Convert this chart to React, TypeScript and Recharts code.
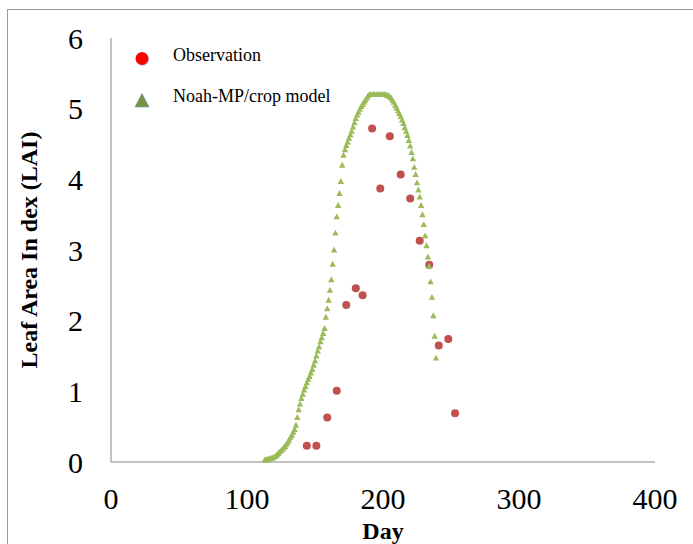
import React from "react";
import { ScatterChart, Scatter, XAxis, YAxis, Label } from "recharts";

const xTicks = [0, 100, 200, 300, 400];
const yTicks = [0, 1, 2, 3, 4, 5, 6];

const obsDays = [144, 151, 159, 166, 173, 180, 185, 192, 198, 205, 213, 220, 227, 234, 241, 248, 253];
const obsLai = [0.23, 0.23, 0.63, 1.01, 2.22, 2.46, 2.36, 4.72, 3.87, 4.61, 4.07, 3.73, 3.13, 2.79, 1.65, 1.74, 0.69];

const modelDays = [
    113, 114, 115, 116, 117, 118, 119, 120, 121, 122, 123, 124, 125, 126, 127, 128, 129, 130,
    131, 132, 133, 134, 135, 136, 137, 138, 139, 140, 141, 142, 143, 144, 145, 146, 147, 148,
    149, 150, 151, 152, 153, 154, 155, 156, 157, 158, 159, 160, 161, 162, 163, 164, 165, 166,
    167, 168, 169, 170, 171, 172, 173, 174, 175, 176, 177, 178, 179, 180, 181, 182, 183, 184,
    185, 186, 187, 188, 189, 190, 191, 192, 193, 194, 195, 196, 197, 198, 199, 200, 201, 202,
    203, 204, 205, 206, 207, 208, 209, 210, 211, 212, 213, 214, 215, 216, 217, 218, 219, 220,
    221, 222, 223, 224, 225, 226, 227, 228, 229, 230, 231, 232, 233, 234, 235, 236, 237, 238,
    239,
];
const modelLai = [
    0.03, 0.03, 0.04, 0.04, 0.05, 0.05, 0.06, 0.07, 0.08, 0.1, 0.12, 0.14, 0.16, 0.18, 0.2, 0.22, 0.25, 0.28,
    0.31, 0.35, 0.38, 0.42, 0.46, 0.52, 0.63, 0.74, 0.82, 0.9, 0.96, 1.02, 1.07, 1.12, 1.17, 1.21, 1.26, 1.31,
    1.37, 1.43, 1.5, 1.57, 1.63, 1.7, 1.76, 1.82, 1.89, 2.05, 2.17, 2.29, 2.43, 2.58, 2.8, 3.0, 3.24, 3.47,
    3.63, 3.8, 3.97, 4.2, 4.34, 4.42, 4.48, 4.53, 4.58, 4.63, 4.68, 4.74, 4.8, 4.86, 4.91, 4.95, 4.99, 5.03,
    5.06, 5.09, 5.12, 5.15, 5.18, 5.2, 5.2, 5.2, 5.2, 5.2, 5.2, 5.2, 5.2, 5.2, 5.2, 5.2, 5.2, 5.2,
    5.19, 5.18, 5.17, 5.15, 5.12, 5.09, 5.05, 5.01, 4.97, 4.93, 4.89, 4.84, 4.79, 4.73, 4.68, 4.62, 4.55, 4.47,
    4.38, 4.29, 4.17, 4.07, 3.95, 3.85, 3.75, 3.63, 3.5, 3.36, 3.2, 3.06, 2.9, 2.77, 2.55, 2.33, 2.07, 1.78,
    1.47,
];

const obsData = obsDays.map((day, i) => ({ day, lai: obsLai[i] }));
const modelData = modelDays.map((day, i) => ({ day, lai: modelLai[i] }));

const FONT = '"Liberation Serif", "Times New Roman", serif';
const AXIS_COLOR = "#868686";

const ObsDot = (props: any) => <circle cx={props.cx} cy={props.cy} r={4} fill="#C0504D" />;

const ModelTriangle = (props: any) => {
    const { cx, cy } = props;
    return <polygon points={`${cx},${cy - 3.4} ${cx + 3.2},${cy + 2.5} ${cx - 3.2},${cy + 2.5}`} fill="#9BBB59" />;
};

const YTitle = (props: any) => {
    const vb = props.viewBox || { y: 38, height: 424 };
    const cy = vb.y + vb.height / 2;
    return (
        <text
            transform={`translate(37 ${cy}) rotate(-90)`}
            textAnchor="middle"
            fontFamily={FONT}
            fontSize={24}
            fontWeight="bold"
            fill="#000"
        >
            Leaf Area In dex (LAI)
        </text>
    );
};

export default function App() {
    return (
        <div style={{ position: "absolute", left: 0, top: 0, width: 693, height: 544, overflow: "hidden", background: "#fff" }}>
            <div
                style={{
                    position: "absolute",
                    left: 7,
                    top: 9,
                    width: 720,
                    height: 600,
                    borderTop: "1px solid #9a9a9a",
                    borderLeft: "1px solid #9a9a9a",
                }}
            />
            <ScatterChart width={693} height={544} margin={{ top: 38, right: 38, bottom: 0, left: 0 }}>
                <XAxis
                    type="number"
                    dataKey="day"
                    domain={[0, 400]}
                    ticks={xTicks}
                    height={82}
                    axisLine={{ stroke: AXIS_COLOR }}
                    tickLine={false}
                    tickSize={0}
                    tickMargin={26}
                    tick={{ fontSize: 30, fontFamily: FONT, fill: "#000" }}
                >
                    <Label
                        value="Day"
                        position="insideBottom"
                        offset={5}
                        style={{ fontSize: 24, fontWeight: "bold", fontFamily: FONT, fill: "#000" }}
                    />
                </XAxis>
                <YAxis
                    type="number"
                    dataKey="lai"
                    domain={[0, 6]}
                    ticks={yTicks}
                    width={111}
                    axisLine={{ stroke: AXIS_COLOR }}
                    tickLine={false}
                    tickSize={0}
                    tickMargin={28}
                    tick={{ fontSize: 30, fontFamily: FONT, fill: "#000" }}
                >
                    <Label content={<YTitle />} />
                </YAxis>
                <Scatter data={obsData} shape={<ObsDot />} isAnimationActive={false} />
                <Scatter data={modelData} shape={<ModelTriangle />} isAnimationActive={false} />
            </ScatterChart>
            <div style={{ position: "absolute", left: 128, top: 42, fontFamily: FONT, fontSize: 18, color: "#000" }}>
                <div style={{ position: "absolute", left: 0, top: 0, width: 300, height: 30 }}>
                    <svg width={30} height={30} style={{ position: "absolute", left: 0, top: 0 }}>
                        <circle cx={14.5} cy={17.5} r={6.5} fill="#8a9fc0" opacity={0.5} />
                        <circle cx={14} cy={16.5} r={6.5} fill="#FF0000" />
                    </svg>
                    <span style={{ position: "absolute", left: 45, top: 3, whiteSpace: "nowrap" }}>Observation</span>
                </div>
                <div style={{ position: "absolute", left: 0, top: 42, width: 300, height: 30 }}>
                    <svg width={30} height={30} style={{ position: "absolute", left: 0, top: 0 }}>
                        <polygon points="14,9.5 21,23 7,23" fill="#77933C" stroke="#6f8fbf" strokeWidth={1} strokeOpacity={0.6} />
                    </svg>
                    <span style={{ position: "absolute", left: 45, top: 2, whiteSpace: "nowrap" }}>Noah-MP/crop model</span>
                </div>
            </div>
        </div>
    );
}
